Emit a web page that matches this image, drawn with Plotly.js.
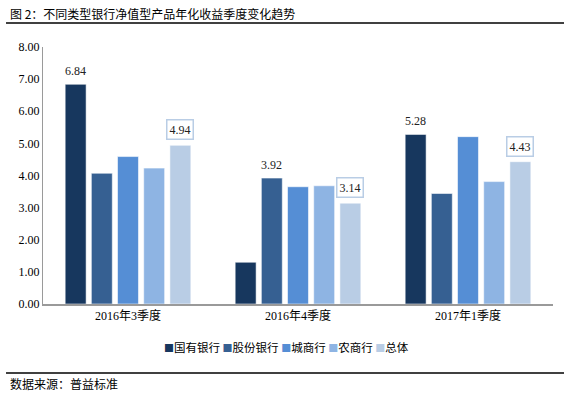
<!DOCTYPE html>
<html>
<head>
<meta charset="utf-8">
<script src="https://cdn.plot.ly/plotly-3.0.1.min.js"></script>
<style>html,body{margin:0;padding:0;background:#fff;}#chart{width:571px;height:397px;}</style>
</head>
<body>
<div id="chart"></div>
<script>
const categories = ["2016年3季度", "2016年4季度", "2017年1季度"];
const seriesNames = ["国有银行", "股份银行", "城商行", "农商行", "总体"];
const guoyou = [6.84, 1.30, 5.28];
const gufen = [4.07, 3.92, 3.44];
const chengshang = [4.59, 3.65, 5.21];
const nongshang = [4.23, 3.68, 3.81];
const zongti = [4.94, 3.14, 4.43];
const colors = ["#17375E", "#366092", "#558ED5", "#8EB4E3", "#B9CDE5"];
const yTicks = [0, 1, 2, 3, 4, 5, 6, 7, 8];
// labels shown: [seriesIndex, categoryIndex, boxed]
const labelSpec = [[0, 0, false], [1, 1, false], [0, 2, false], [4, 0, true], [4, 1, true], [4, 2, true]];

const allSeries = [guoyou, gufen, chengshang, nongshang, zongti];
const bargap = 0.23;
const serif = "Liberation Serif, Times New Roman, Noto Sans CJK SC, serif";
const sans = "Noto Sans CJK SC, sans-serif";

const traces = allSeries.map((vals, i) => ({
  type: "bar",
  name: seriesNames[i],
  x: categories,
  y: vals,
  marker: {color: colors[i], line: {color: "rgba(255,255,255,0.55)", width: 1}},
  hoverinfo: "none"
}));

const slot = (1 - bargap) / allSeries.length;
const annotations = labelSpec.map(([s, c, boxed]) => ({
  xref: "x", yref: "y",
  x: c + (s - (allSeries.length - 1) / 2) * slot,
  y: allSeries[s][c],
  text: allSeries[s][c].toFixed(2),
  showarrow: false,
  yanchor: "bottom",
  yshift: boxed ? 5 : 4,
  font: {family: serif, size: 12, color: "#222"},
  bordercolor: boxed ? "#B9CDE5" : "rgba(0,0,0,0)",
  borderwidth: boxed ? 1.5 : 0,
  borderpad: 2,
  bgcolor: boxed ? "#fff" : "rgba(0,0,0,0)"
}));

// compact legend built from series names and colours
const legendText = seriesNames.map((n, i) =>
  `<span style="color:${colors[i]};font-size:10px">■</span>${n}`).join("&nbsp;");
annotations.push({
  xref: "paper", yref: "paper", x: 0.478, y: -0.167, xanchor: "center", yanchor: "middle",
  text: legendText, showarrow: false,
  font: {family: sans, size: 11.5, color: "#000"}
});

annotations.push({
  xref: "paper", yref: "paper", x: -0.0686, y: 1.132, xanchor: "left", yanchor: "middle",
  text: "图 2：不同类型银行净值型产品年化收益季度变化趋势", showarrow: false,
  font: {family: sans, size: 12, color: "#000"}
});
annotations.push({
  xref: "paper", yref: "paper", x: -0.0686, y: -0.311, xanchor: "left", yanchor: "middle",
  text: "数据来源：普益标准", showarrow: false,
  font: {family: sans, size: 12, color: "#000"}
});

const layout = {
  width: 571, height: 397,
  margin: {l: 43, r: 18, t: 47, b: 93},
  paper_bgcolor: "#fff", plot_bgcolor: "#fff",
  barmode: "group", bargap: bargap, bargroupgap: 0.2,
  showlegend: false,
  xaxis: {type: "category", showline: true, linecolor: "#9a9a9a", linewidth: 1.5,
    ticks: "", tickfont: {family: serif, size: 12, color: "#000"}, fixedrange: true},
  yaxis: {range: [0, 8], tickvals: yTicks, tickformat: ".2f", showgrid: false, zeroline: false,
    showline: true, linecolor: "#9a9a9a", linewidth: 1, ticks: "",
    tickfont: {family: serif, size: 12, color: "#000"}, fixedrange: true},
  annotations: annotations,
  shapes: [
    {type: "line", xref: "paper", yref: "paper", x0: -0.0725, x1: 1.0216, y0: 1.093, y1: 1.093, line: {color: "#000", width: 1.5}},
    {type: "line", xref: "paper", yref: "paper", x0: -0.0725, x1: 1.0216, y0: -0.268, y1: -0.268, line: {color: "#000", width: 1.5}}
  ]
};

Plotly.newPlot("chart", traces, layout, {displayModeBar: false, staticPlot: true});
</script>
</body>
</html>
